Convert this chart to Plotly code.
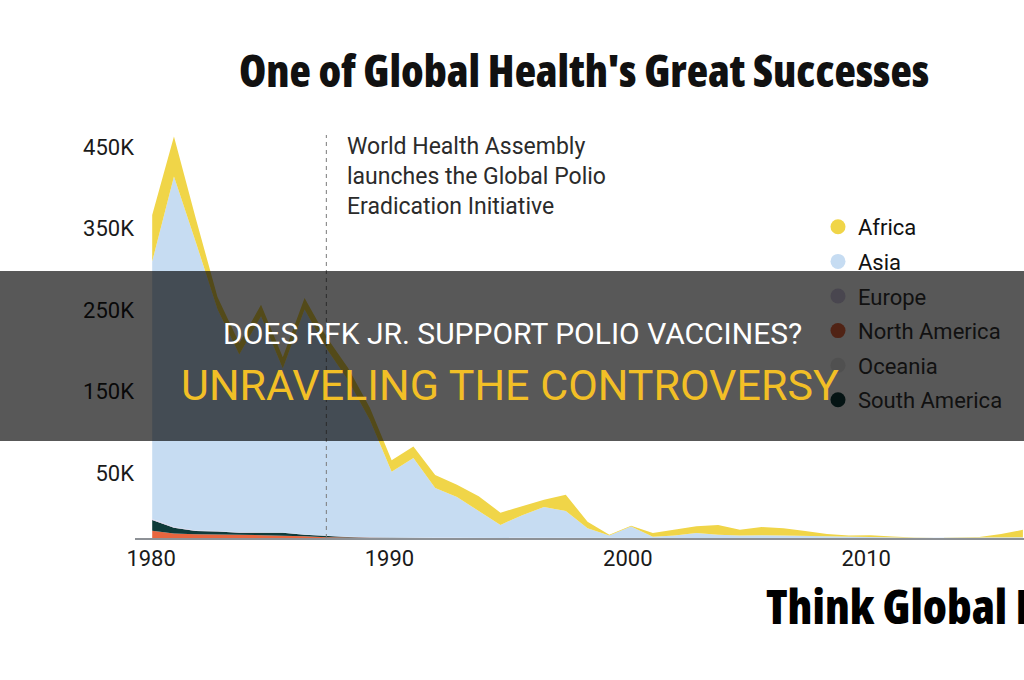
import plotly.graph_objects as go

# ---------------- data (estimated polio cases, by region) ----------------
YEARS = list(range(1980, 2021))

AFRICA = [57000, 49000, 29000, 15000, 14000, 14000, 14000, 14000, 14000, 15000,
          15000, 14000, 14000, 16000, 15000, 18000, 15000, 11000, 9000, 20000,
          8000, 1000, 1000, 4500, 7000, 8500, 12000, 7000, 10000, 9000,
          6000, 3000, 2000, 2300, 1000, 300, 200, 300, 800, 4000, 9000]
ASIA = [316000, 430000, 354000, 272000, 218000, 265000, 201000, 276000, 230000, 192000,
        144000, 81000, 98000, 61000, 50000, 33000, 16000, 28000, 38000, 33000,
        12000, 3000, 14000, 1500, 3000, 6000, 4000, 3000, 3500, 3000,
        2500, 2000, 1000, 1000, 800, 300, 200, 300, 400, 1000, 1000]
EUROPE = [1200, 900, 700, 600, 500, 500, 400, 400, 300, 300,
          200, 200, 300, 300, 200, 100, 100, 50, 50, 0,
          0, 0, 0, 0, 0, 0, 0, 0, 0, 0,
          0, 0, 0, 0, 0, 0, 0, 0, 0, 0, 0]
NORTH_AMERICA = [9000, 5500, 4500, 4500, 4000, 3500, 3000, 2000, 1000, 500,
                 300, 100, 0, 0, 0, 0, 0, 0, 0, 0,
                 0, 0, 0, 0, 0, 0, 0, 0, 0, 0,
                 0, 0, 0, 0, 0, 0, 0, 0, 0, 0, 0]
OCEANIA = [100, 100, 100, 50, 50, 50, 0, 0, 0, 0,
           0, 0, 0, 0, 0, 0, 0, 0, 0, 0,
           0, 0, 0, 0, 0, 0, 0, 0, 0, 0,
           0, 0, 0, 0, 0, 0, 0, 0, 0, 0, 0]
SOUTH_AMERICA = [13000, 7000, 4000, 3500, 2500, 3000, 3500, 2000, 1500, 800,
                 300, 100, 0, 0, 0, 0, 0, 0, 0, 0,
                 0, 0, 0, 0, 0, 0, 0, 0, 0, 0,
                 0, 0, 0, 0, 0, 0, 0, 0, 0, 0, 0]

EVENT_YEAR = 1988
EVENT_TEXT = "World Health Assembly<br>launches the Global Polio<br>Eradication Initiative"

Y_TICK_VALS = [50000, 150000, 250000, 350000, 450000]
Y_TICK_TEXT = ["50K", "150K", "250K", "350K", "450K"]
X_TICK_TEXT = ["1980", "1990", "2000", "2010"]
X_TICK_POS = [1979.95, 1990.9, 2001.85, 2012.8]

TITLE = "One of Global Health's Great Successes"
BANNER_1 = "DOES RFK JR. SUPPORT POLIO VACCINES?"
BANNER_2 = "UNRAVELING THE CONTROVERSY"
LOGO = "Think Global Health"

# ---------------- style ----------------
COLORS = {
    "Africa": "#f0d548",
    "Asia": "#c6dcf2",
    "Europe": "#d6cce6",
    "North America": "#e8663f",
    "Oceania": "#e8e8e8",
    "South America": "#0f3b3a",
}
BAND_ALPHA = 0.655

W, H = 1024, 680
L, R, T, B = 135, 0, 100, 142
PLOT_W, PLOT_H = W - L - R, H - T - B


def pxx(px):
    return (px - L) / PLOT_W


def pxy(py):
    return (H - B - py) / PLOT_H


def darken(hexc, a):
    hexc = hexc.lstrip("#")
    r, g, b = (int(hexc[i:i + 2], 16) for i in (0, 2, 4))
    k = 1 - a
    return "rgb(%d,%d,%d)" % (r * k, g * k, b * k)


FONT = "Roboto, Arial, sans-serif"

fig = go.Figure()

stack = [("North America", NORTH_AMERICA), ("South America", SOUTH_AMERICA),
         ("Oceania", OCEANIA), ("Europe", EUROPE), ("Asia", ASIA), ("Africa", AFRICA)]
for name, vals in stack:
    fig.add_trace(go.Scatter(
        x=YEARS, y=vals, name=name, stackgroup="one", mode="lines",
        line=dict(width=0), fillcolor=COLORS[name], showlegend=False,
        hoverinfo="skip"))

# legend entries (those lying under the dark banner are shown darkened)
under_band = {"Europe", "North America", "Oceania", "South America"}
for name in ["Africa", "Asia", "Europe", "North America", "Oceania", "South America"]:
    c = COLORS[name]
    if name in under_band:
        c = darken(c, BAND_ALPHA)
    fig.add_trace(go.Scatter(
        x=[None], y=[None], mode="markers", name=name, legendgroup=name,
        marker=dict(size=15, color=c)))

y_max = PLOT_H / 81.5 * 100000

fig.update_layout(
    width=W, height=H,
    margin=dict(l=L, r=R, t=T, b=B, pad=0, autoexpand=False),
    paper_bgcolor="white", plot_bgcolor="white",
    font=dict(family=FONT, color="#1a1a1a", size=22),
    showlegend=True,
    legend=dict(
        x=pxx(818), y=pxy(206),
        xanchor="left", yanchor="top", bgcolor="rgba(0,0,0,0)",
        font=dict(family=FONT, size=22, color="#111"),
        tracegroupgap=3, itemsizing="trace"),
    xaxis=dict(range=[1979.21, 2020.05], showgrid=False, zeroline=False,
               showline=True, linecolor="#8d9196", linewidth=2,
               tickmode="array", tickvals=X_TICK_POS, ticktext=X_TICK_TEXT,
               ticks="", tickfont=dict(family=FONT, size=22, color="#1a1a1a")),
    yaxis=dict(range=[0, y_max], showgrid=False, zeroline=False, showline=False,
               tickmode="array", tickvals=Y_TICK_VALS, ticktext=Y_TICK_TEXT,
               ticks="", ticklabelshift=-24,
               tickfont=dict(family=FONT, size=22, color="#1a1a1a")),
)

# event line
fig.add_shape(type="line", xref="x", yref="y", x0=EVENT_YEAR, x1=EVENT_YEAR,
              y0=0, y1=(538 - 135) / 81.5 * 100000,
              line=dict(color="#7a7a7a", width=1, dash="4px,4px"), layer="above")

# dark banner
fig.add_shape(type="rect", xref="paper", yref="paper",
              x0=pxx(0), x1=pxx(W), y0=pxy(441), y1=pxy(271),
              fillcolor="rgba(0,0,0,%.3f)" % BAND_ALPHA, line=dict(width=0), layer="above")

COND = '<span style="font-family:\'Open Sans\';font-stretch:condensed;font-weight:800">%s</span>'

annos = [
    dict(text=COND % TITLE, x=pxx(584), y=pxy(70), xanchor="center", yanchor="middle",
         font=dict(family="Open Sans", size=44, color="#111")),
    dict(text=EVENT_TEXT, x=pxx(345), y=pxy(176.5), xanchor="left", yanchor="middle", align="left",
         font=dict(family=FONT, size=23, color="#2b2b2b")),
    dict(text=BANNER_1, x=pxx(512), y=pxy(333), xanchor="center", yanchor="middle",
         font=dict(family=FONT, size=30, color="white")),
    dict(text=BANNER_2, x=pxx(510), y=pxy(385), xanchor="center", yanchor="middle",
         font=dict(family=FONT, size=43, color="#f2bf26")),
    dict(text=COND % LOGO, x=pxx(764), y=pxy(606), xanchor="left", yanchor="middle",
         font=dict(family="Open Sans", size=47, color="black")),
]
for a in annos:
    fig.add_annotation(xref="paper", yref="paper", showarrow=False, **a)

fig.write_html("out.html")
